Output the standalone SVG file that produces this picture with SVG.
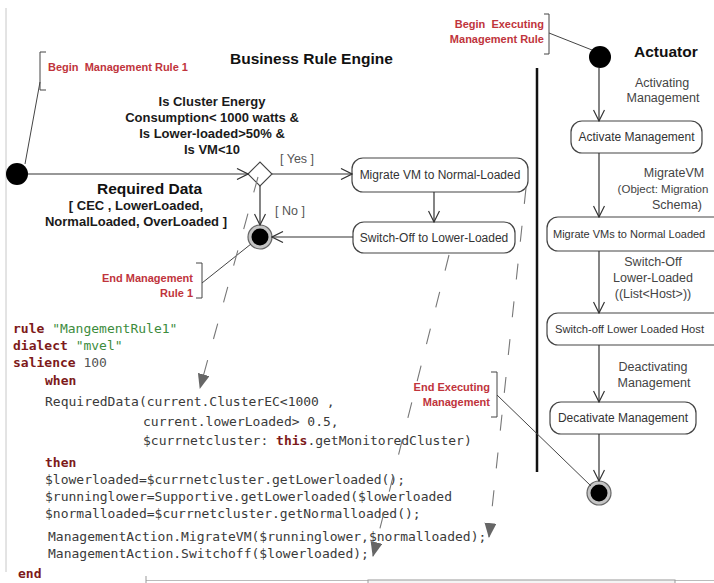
<svg xmlns="http://www.w3.org/2000/svg" width="714" height="583" viewBox="0 0 714 583">
  <defs>
    <style>
      .head { font-family: "Liberation Sans", Arial, sans-serif; font-weight: bold; font-size: 15.5px; fill: #111; }
      .cond { font-family: "Liberation Sans", Arial, sans-serif; font-weight: bold; font-size: 13px; fill: #1a1a1a; text-anchor: middle; }
      .guard { font-family: "Liberation Sans", Arial, sans-serif; font-size: 12.5px; fill: #555; }
      .flow { font-family: "Liberation Sans", Arial, sans-serif; font-size: 12.5px; fill: #444; text-anchor: middle; }
      .note-txt { font-family: "Liberation Sans", Arial, sans-serif; font-weight: bold; font-size: 11px; fill: #c0343c; }
      .box { fill: #fff; stroke: #444; stroke-width: 1.2; }
      .box-txt { font-family: "Liberation Sans", Arial, sans-serif; font-size: 12px; fill: #333; }
      .edge { stroke: #333; stroke-width: 1.2; fill: none; marker-end: url(#open); }
      .dep { stroke: #777; stroke-width: 1.1; fill: none; stroke-dasharray: 16 22; marker-end: url(#solid); }
      .anchor { stroke: #444; stroke-width: 1; fill: none; }
      .code { font-family: "DejaVu Sans Mono", "Liberation Mono", monospace; font-size: 13px; fill: #3a3a3a; white-space: pre; }
      .kw { font-weight: bold; fill: #7d1a1a; }
      .str { fill: #3d8c3d; }
      .num { fill: #555; }
    </style>
    <marker id="open" viewBox="0 0 13 12" refX="12" refY="6" markerWidth="13" markerHeight="12" markerUnits="userSpaceOnUse" orient="auto">
      <path d="M1,0.5 L12,6 L1,11.5" fill="none" stroke="#333" stroke-width="1.2"/>
    </marker>
    <marker id="solid" viewBox="0 0 15 12" refX="14" refY="6" markerWidth="15" markerHeight="12" markerUnits="userSpaceOnUse" orient="auto">
      <path d="M0,0 L15,6 L0,12 z" fill="#666"/>
    </marker>
  </defs>

  <rect width="714" height="583" fill="#fff"/>

  <!-- window edges -->
  <line x1="6" y1="8" x2="6" y2="572" stroke="#c8c8c8" stroke-width="1"/>
  <line x1="146" y1="580.5" x2="714" y2="580.5" stroke="#bbb" stroke-width="1"/>
  <line x1="146" y1="576" x2="146" y2="583" stroke="#999" stroke-width="1"/>
  <rect x="368" y="580" width="307" height="6" fill="#f4f4f4" stroke="#999" stroke-width="1"/>

  <!-- swimlane divider -->
  <line x1="537" y1="68" x2="537" y2="472" stroke="#111" stroke-width="2.5"/>

  <!-- lane titles -->
  <text class="head" x="230" y="64">Business Rule Engine</text>
  <text class="head" x="634" y="57">Actuator</text>

  <!-- ===== Business Rule Engine lane ===== -->
  <g id="start-rule">
    <circle cx="17" cy="174" r="11" fill="#000"/>
  </g>

  <g id="note-begin-rule">
    <path class="anchor" d="M46,52 H40 V90 H46"/>
    <text class="note-txt" x="48" y="71" xml:space="preserve">Begin  Management Rule 1</text>
  </g>

  <g id="condition-text">
    <text class="cond" x="212" y="106">Is Cluster Energy</text>
    <text class="cond" x="212" y="122">Consumption&lt; 1000 watts &amp;</text>
    <text class="cond" x="212" y="138">Is Lower-loaded&gt;50% &amp;</text>
    <text class="cond" x="212" y="154">Is VM&lt;10</text>
  </g>

  <g id="decision">
    <path d="M248,174 L260,162 L272,174 L260,186 Z" fill="#fff" stroke="#444" stroke-width="1.1"/>
  </g>

  <g id="required-data">
    <text class="head" x="149.5" y="194" text-anchor="middle">Required Data</text>
    <text class="cond" x="136" y="210">[ CEC , LowerLoaded,</text>
    <text class="cond" x="136" y="226">NormalLoaded, OverLoaded ]</text>
  </g>

  <g id="migrate-vm">
    <rect class="box" x="352" y="158" width="176" height="34" rx="11"/>
    <text class="box-txt" x="440" y="179" text-anchor="middle">Migrate VM to Normal-Loaded</text>
  </g>

  <g id="switch-off">
    <rect class="box" x="353" y="222" width="162" height="31" rx="11"/>
    <text class="box-txt" x="434" y="242" text-anchor="middle">Switch-Off to Lower-Loaded</text>
  </g>

  <g id="end-rule">
    <circle cx="260" cy="237" r="12" fill="#c4c4c4" stroke="#666" stroke-width="1.2"/>
    <circle cx="260" cy="237" r="8.5" fill="#000"/>
  </g>

  <g id="note-end-rule">
    <path class="anchor" d="M196,263 H202 V298 H196"/>
    <text class="note-txt" x="193" y="282" text-anchor="end">End Management</text>
    <text class="note-txt" x="193" y="297" text-anchor="end">Rule 1</text>
  </g>

  <!-- rule source -->
  <g id="rule-source" class="code">
    <text x="13" y="333"><tspan class="kw">rule</tspan><tspan> </tspan><tspan class="str">"MangementRule1"</tspan></text>
    <text x="13" y="350"><tspan class="kw">dialect</tspan><tspan> </tspan><tspan class="str">"mvel"</tspan></text>
    <text x="13" y="367"><tspan class="kw">salience</tspan><tspan> </tspan><tspan class="num">100</tspan></text>
    <text x="45" y="385" class="kw">when</text>
    <text x="45" y="406">RequiredData(current.ClusterEC&lt;1000 ,</text>
    <text x="143" y="426">current.lowerLoaded&gt; 0.5,</text>
    <text x="143" y="445"><tspan>$currnetcluster: </tspan><tspan class="kw">this</tspan><tspan>.getMonitoredCluster)</tspan></text>
    <text x="45" y="467" class="kw">then</text>
    <text x="45" y="484">$lowerloaded=$currnetcluster.getLowerloaded();</text>
    <text x="45" y="501">$runninglower=Supportive.getLowerloaded($lowerloaded</text>
    <text x="45" y="518">$normalloaded=$currnetcluster.getNormalloaded();</text>
    <text x="48" y="541">ManagementAction.MigrateVM($runninglower,$normalloaded);</text>
    <text x="48" y="558">ManagementAction.Switchoff($lowerloaded);</text>
    <text x="18" y="578" class="kw">end</text>
  </g>

  <!-- ===== Actuator lane ===== -->
  <g id="note-begin-exec">
    <path class="anchor" d="M544,14 H549 V54 H544"/>
    <text class="note-txt" x="544" y="28" text-anchor="end" xml:space="preserve">Begin  Executing</text>
    <text class="note-txt" x="544" y="43" text-anchor="end">Management Rule</text>
  </g>

  <g id="start-exec">
    <circle cx="600" cy="57" r="11" fill="#000"/>
  </g>

  <g id="activate-management">
    <rect class="box" x="571" y="121" width="131" height="32" rx="11"/>
    <text class="box-txt" x="636.5" y="141" text-anchor="middle">Activate Management</text>
  </g>

  <g id="migrate-vms">
    <rect class="box" x="547" y="217" width="190" height="34" rx="11"/>
    <text class="box-txt" x="553" y="238" style="font-size:11px">Migrate VMs to Normal Loaded</text>
  </g>

  <g id="switch-off-hosts">
    <rect class="box" x="547" y="313" width="190" height="32" rx="11"/>
    <text class="box-txt" x="555" y="333" style="font-size:11.2px">Switch-off Lower Loaded Host</text>
  </g>

  <g id="deactivate-management">
    <rect class="box" x="550" y="402" width="146" height="32" rx="11"/>
    <text class="box-txt" x="623" y="422" text-anchor="middle">Decativate Management</text>
  </g>

  <g id="end-exec">
    <circle cx="599" cy="493" r="12" fill="#c4c4c4" stroke="#666" stroke-width="1.2"/>
    <circle cx="599" cy="493" r="8.5" fill="#000"/>
  </g>

  <g id="note-end-exec">
    <path class="anchor" d="M491,372 H497 V417 H491"/>
    <text class="note-txt" x="490" y="391" text-anchor="end">End Executing</text>
    <text class="note-txt" x="490" y="406" text-anchor="end">Management</text>
  </g>

  <!-- ===== connectors ===== -->
  <g id="connectors">
    <!-- control flow, rule engine -->
    <line class="edge" x1="28" y1="174" x2="248" y2="174"/>
    <line class="edge" x1="272" y1="174" x2="352" y2="174"/>
    <line class="edge" x1="260" y1="186" x2="260" y2="225"/>
    <line class="edge" x1="434" y1="192" x2="434" y2="222"/>
    <line class="edge" x1="353" y1="237" x2="272" y2="237"/>
    <text class="guard" x="280" y="163">[ Yes ]</text>
    <text class="guard" x="275" y="215">[ No ]</text>

    <!-- control flow, actuator -->
    <line class="edge" x1="599" y1="68" x2="599" y2="121"/>
    <line class="edge" x1="599" y1="153" x2="599" y2="217"/>
    <line class="edge" x1="599" y1="251" x2="599" y2="313"/>
    <line class="edge" x1="599" y1="345" x2="599" y2="402"/>
    <line class="edge" x1="599" y1="434" x2="599" y2="481"/>
    <text class="flow" x="662" y="87">Activating</text>
    <text class="flow" x="663" y="102">Management</text>
    <text class="flow" x="674" y="177">MigrateVM</text>
    <text class="flow" x="663" y="193" style="font-size:11.5px">(Object: Migration</text>
    <text class="flow" x="677" y="209">Schema)</text>
    <text class="flow" x="653" y="266">Switch-Off</text>
    <text class="flow" x="653" y="282">Lower-Loaded</text>
    <text class="flow" x="653" y="298">((List&lt;Host&gt;))</text>
    <text class="flow" x="653" y="371">Deactivating</text>
    <text class="flow" x="654" y="387">Management</text>

    <!-- note anchors -->
    <line class="anchor" x1="25" y1="164" x2="40" y2="82"/>
    <line class="anchor" x1="202" y1="283" x2="251" y2="244"/>
    <line class="anchor" x1="549" y1="33" x2="592" y2="50"/>
    <line class="anchor" x1="497" y1="395" x2="591" y2="486"/>

    <!-- mapping to rule source -->
    <line class="dep" x1="258" y1="177" x2="200" y2="388"/>
    <line class="dep" x1="526" y1="188" x2="489" y2="537"/>
    <line class="dep" x1="449" y1="255" x2="373" y2="556"/>
  </g>
</svg>
